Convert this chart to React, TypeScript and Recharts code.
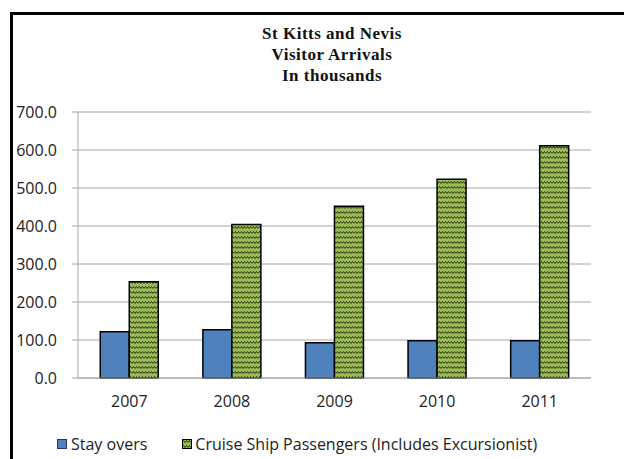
import React from 'react';
import { BarChart, Bar, XAxis, YAxis, CartesianGrid } from 'recharts';

const years = ['2007', '2008', '2009', '2010', '2011'];
const stayOvers = [122, 127, 93, 98, 98];
const cruisePassengers = [253, 404, 452, 523, 611];
const yTicks = [0, 100, 200, 300, 400, 500, 600, 700];
const titleLines = ['St Kitts and Nevis', 'Visitor Arrivals', 'In thousands'];
const seriesNames = ['Stay overs', 'Cruise Ship Passengers (Includes Excursionist)'];

const data = years.map((year, i) => ({
    year,
    stay: stayOvers[i],
    cruise: cruisePassengers[i],
}));

const axisFont = '"Open Sans", "DejaVu Sans", sans-serif';
const gridColor = '#A6A6A6';

const Patterns = () => (
    <svg width={0} height={0} style={{ position: 'absolute' }}>
        <defs>
            <pattern id="zigzag" width={6} height={5} patternUnits="userSpaceOnUse">
                <rect width={6} height={5} fill="#9BBB59" />
                <path d="M0,3.5 L1.5,1.5 L3,3.5 L4.5,1.5 L6,3.5" stroke="#26330d" strokeWidth={1} fill="none" />
            </pattern>
        </defs>
    </svg>
);

export default function App() {
    return (
        <div style={{ position: 'absolute', left: 0, top: 0, width: 624, height: 459, background: '#fff', overflow: 'hidden' }}>
            <Patterns />
            {/* chart frame, only left and top edges are visible in the crop */}
            <div style={{ position: 'absolute', left: 10, top: 12, width: 620, height: 460, borderLeft: '3px solid #000', borderTop: '3px solid #000' }} />

            {titleLines.map((line, i) => (
                <div
                    key={line}
                    style={{
                        position: 'absolute',
                        left: 232, width: 200, top: 24 + i * 21,
                        textAlign: 'center',
                        fontFamily: '"Liberation Serif", "Times New Roman", serif',
                        fontWeight: 'bold', fontSize: 17, letterSpacing: 0.5,
                        lineHeight: '20px', color: '#111',
                    }}
                >
                    {line}
                </div>
            ))}

            <div style={{ position: 'absolute', left: 0, top: 0 }}>
                <BarChart
                    width={624}
                    height={459}
                    data={data}
                    margin={{ top: 112, right: 33, bottom: 51, left: 0 }}
                    barCategoryGap="21.7%"
                    barGap={0}
                >
                    <CartesianGrid vertical={false} stroke={gridColor} strokeWidth={1} />
                    <XAxis
                        dataKey="year"
                        height={30}
                        tickLine={false}
                        axisLine={{ stroke: gridColor }}
                        tickMargin={12}
                        tick={{ fontSize: 16, fill: '#222', fontFamily: axisFont }}
                    />
                    <YAxis
                        width={78}
                        domain={[0, 700]}
                        ticks={yTicks}
                        tickFormatter={(v: number) => v.toFixed(1)}
                        tickSize={6}
                        tickMargin={15}
                        tickLine={{ stroke: gridColor }}
                        axisLine={{ stroke: gridColor }}
                        tick={{ fontSize: 16, fill: '#222', fontFamily: axisFont }}
                    />
                    <Bar dataKey="stay" name={seriesNames[0]} fill="#4F81BD" stroke="#000" strokeWidth={1.5} isAnimationActive={false} />
                    <Bar dataKey="cruise" name={seriesNames[1]} fill="url(#zigzag)" stroke="#000" strokeWidth={1.5} isAnimationActive={false} />
                </BarChart>
            </div>

            {/* legend */}
            <div style={{ position: 'absolute', left: 57, top: 433, display: 'flex', alignItems: 'center', fontFamily: axisFont, fontSize: 16, color: '#222', whiteSpace: 'nowrap' }}>
                <span style={{ width: 8, height: 8, background: '#4F81BD', border: '1px solid #1f3a5f', display: 'inline-block' }} />
                <span style={{ marginLeft: 4 }}>{seriesNames[0]}</span>
                <svg width={10} height={10} style={{ marginLeft: 35 }}>
                    <rect x={0.5} y={0.5} width={9} height={9} fill="url(#zigzag)" stroke="#000" strokeWidth={1} />
                </svg>
                <span style={{ marginLeft: 3 }}>{seriesNames[1]}</span>
            </div>
        </div>
    );
}
